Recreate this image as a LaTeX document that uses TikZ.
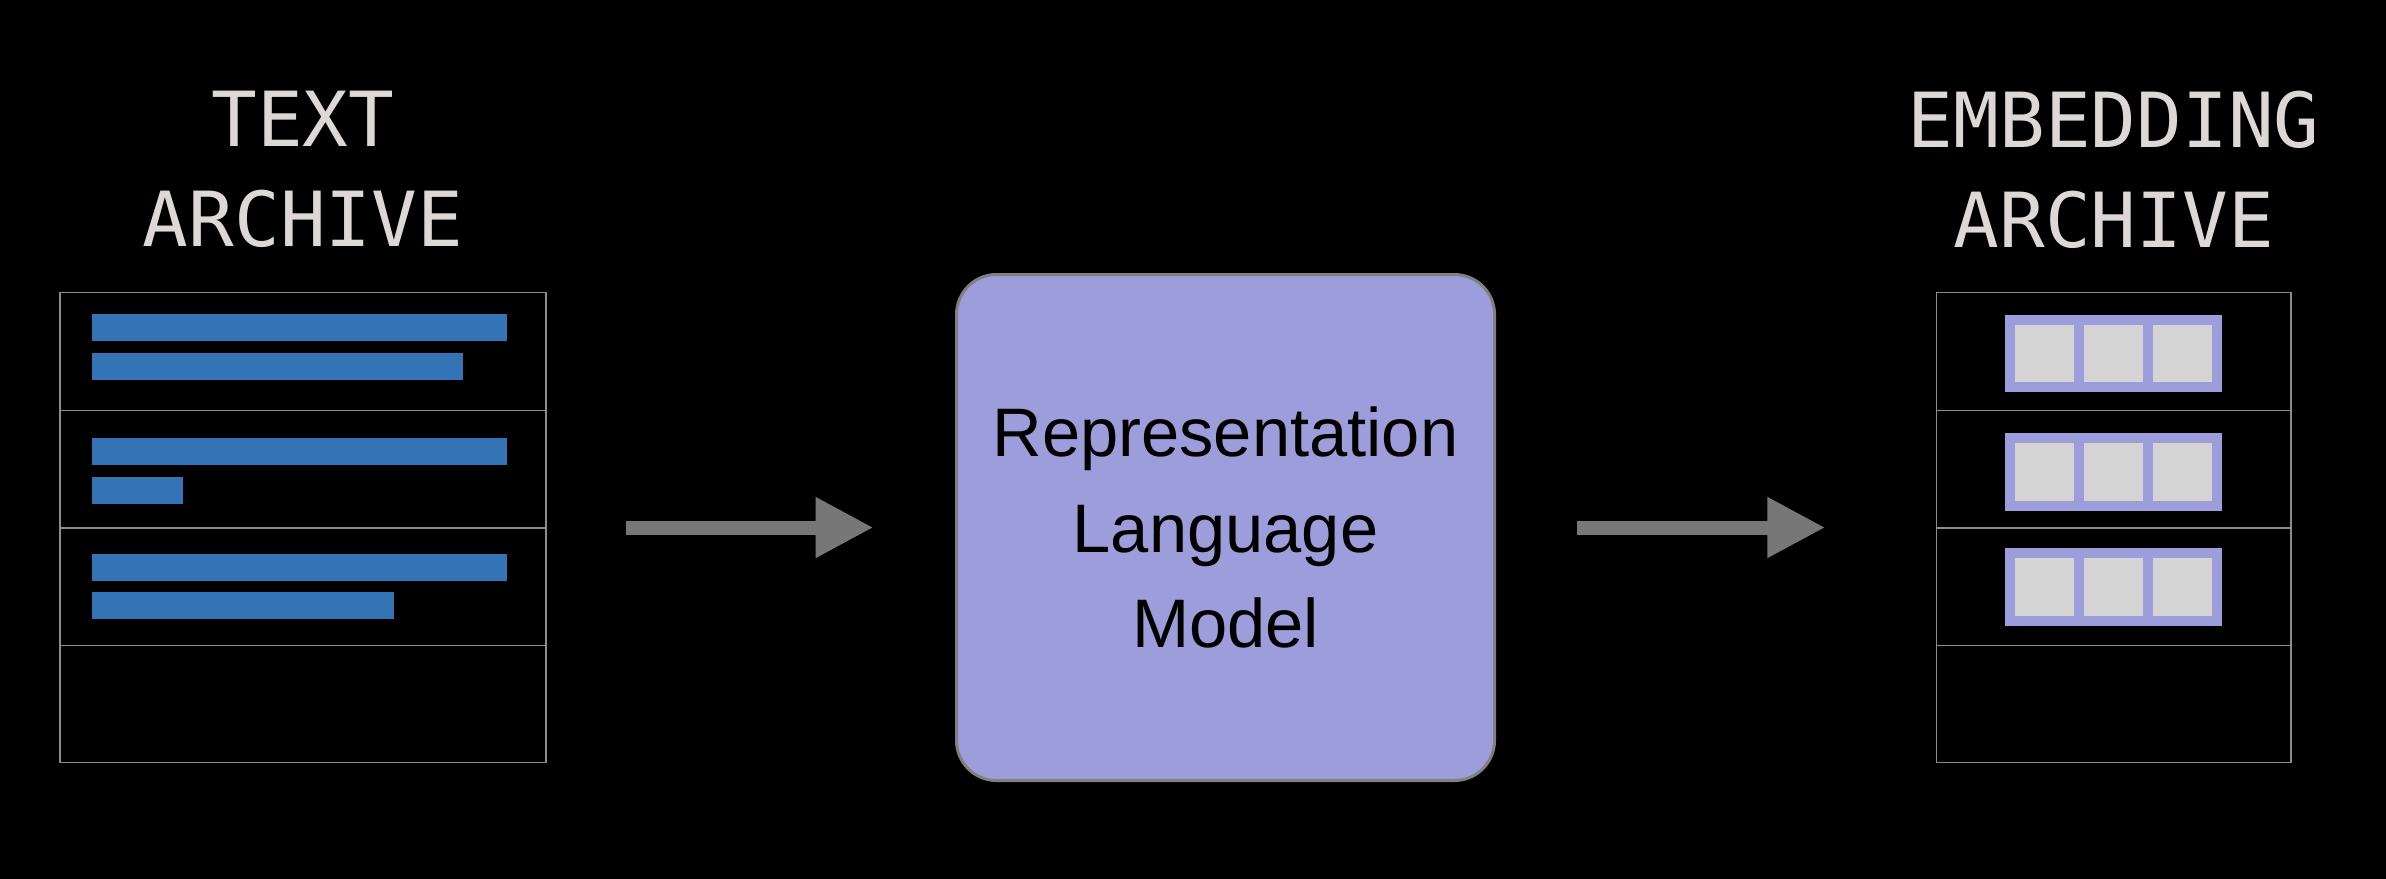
\documentclass[tikz,border=0pt]{standalone}
\usepackage{fontspec}
\setmainfont{Liberation Sans}
\newfontfamily\monofont{DejaVu Sans Mono}
\usetikzlibrary{arrows.meta}
\definecolor{titlegray}{HTML}{DDD8D5}
\definecolor{barblue}{HTML}{3474B6}
\definecolor{lav}{HTML}{9E9DDC}
\definecolor{cellgray}{HTML}{D4D4D4}
\definecolor{linegray}{HTML}{8C8C8C}
\definecolor{arrowgray}{HTML}{777777}
\definecolor{modelborder}{HTML}{808080}
\begin{document}
\begin{tikzpicture}[x=0.3pt,y=-0.3pt,
  title/.style={anchor=north, inner sep=0pt, align=center, text=titlegray,
    font=\monofont\fontsize{22.8}{29.85}\selectfont},
  archive/.style={draw=linegray, line width=0.45pt, inner sep=0pt, minimum height=141pt},
  divider/.style={draw=linegray, line width=0.45pt},
  model/.style={draw=modelborder, line width=0.9pt, fill=lav, rounded corners=12pt,
    minimum width=161.4pt, minimum height=151.8pt, inner sep=0pt, align=center,
    font=\fontsize{20.6}{28.65}\selectfont},
  conn/.style={draw=arrowgray, line width=4.2pt,
    -{Triangle[length=17.4pt,width=17.1pt]}, arrowgray}
]
\useasboundingbox (0,0) rectangle (2386,878);
\fill[black] (-20,-20) rectangle (2406,898);

% titles
\node[title] (tt) at (303,90.5) {TEXT\\ARCHIVE};
\node[title] (et) at (2113.75,90.5) {EMBEDDING\\ARCHIVE};

% archive boxes
\node[archive, minimum width=145.8pt] (ta) at (303,527.5) {};
\node[archive, minimum width=106.35pt] (ea) at (2113.75,527.5) {};

% dividers
\foreach \y in {410.5,528,645.5} {
  \draw[divider] (60,\y) -- (546,\y);
  \draw[divider] (1936.5,\y) -- (2291,\y);
}

% text bars
\fill[barblue] (92,314) rectangle (507,341);
\fill[barblue] (92,353) rectangle (463,380);
\fill[barblue] (92,438) rectangle (507,465);
\fill[barblue] (92,477) rectangle (183,504);
\fill[barblue] (92,553.5) rectangle (507,580.5);
\fill[barblue] (92,592) rectangle (394,619);

% embedding vectors
\foreach \t in {314.5,433,548} {
  \fill[lav] (2005,\t) rectangle (2221.5,\t+77.5);
  \foreach \x in {2015,2084,2153}
    \fill[cellgray] (\x,\t+10) rectangle (\x+59,\t+67.5);
}

% model
\node[model] (m) at (1225.5,527.5) {Representation\\Language\\Model};

% connectors
\draw[conn] ([xshift=23.7pt]ta.east) -- ([xshift=-24.45pt]m.west);
\draw[conn] ([xshift=24.15pt]m.east) -- ([xshift=-33.15pt]ea.west);
\end{tikzpicture}
\end{document}
